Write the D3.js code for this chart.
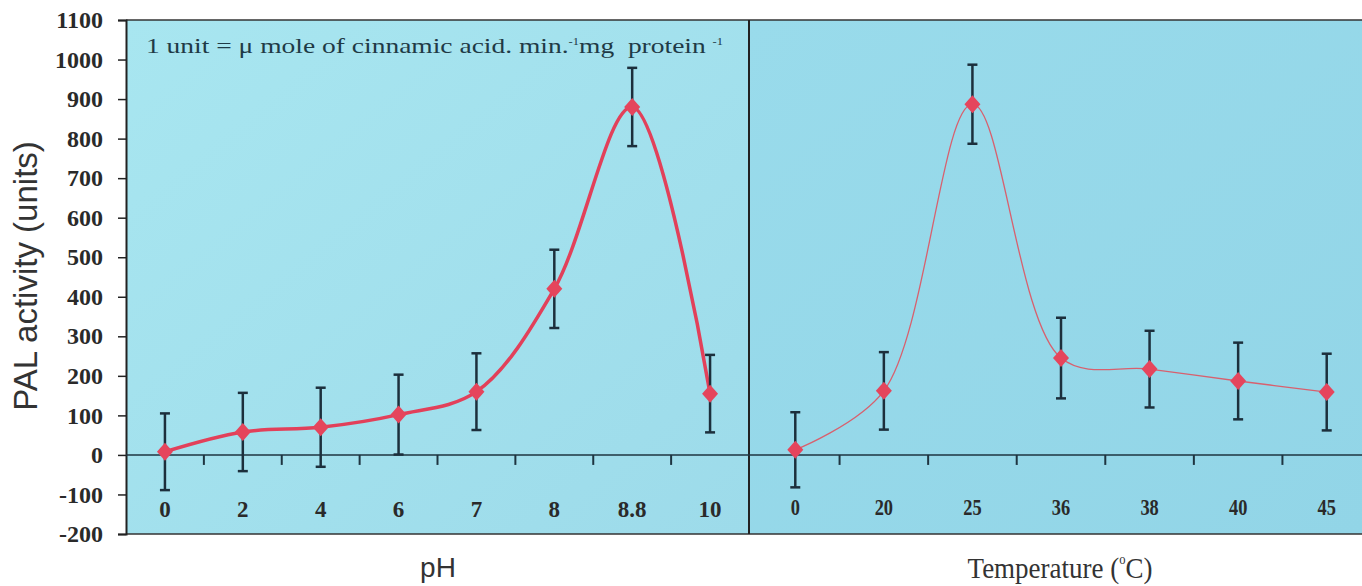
<!DOCTYPE html>
<html>
<head>
<meta charset="utf-8">
<script src="https://cdn.jsdelivr.net/npm/d3@7"></script>
<style>
  html, body { margin: 0; padding: 0; background: #fff; }
  svg { display: block; }
  .ytick text { font-family: "Liberation Serif", "DejaVu Serif", serif; font-weight: bold; font-size: 24px; fill: #2a2a2a; }
  .xlab { font-family: "Liberation Serif", "DejaVu Serif", serif; font-weight: bold; font-size: 23px; fill: #2a2a2a; }
</style>
</head>
<body>
<svg id="chart"></svg>
<script>
// PAL activity vs pH and temperature

const phLabels = ["0", "2", "4", "6", "7", "8", "8.8", "10"];
const phValues = [8, 58, 70, 102, 160, 420, 880, 155];
const phErrors = [97, 99, 100, 101, 97, 99, 99, 98];

const tempLabels = ["0", "20", "25", "36", "38", "40", "45"];
const tempValues = [13, 162, 887, 245, 217, 187, 159];
const tempErrors = [95, 98, 100, 102, 97, 97, 97];

const yTicks = [-200, -100, 0, 100, 200, 300, 400, 500, 600, 700, 800, 900, 1000, 1100];

const W = 1362, H = 586;
const plotLeft = 126, plotTop = 20, plotBottom = 534, divider = 749;

const svg = d3.select("#chart").attr("width", W).attr("height", H);

const y = d3.scaleLinear().domain([-200, 1100]).range([plotBottom, plotTop]);
const xL = d3.scaleBand().domain(phLabels).range([plotLeft, divider]);
const xR = d3.scaleBand().domain(tempLabels).range([751, 1371]);

// panel backgrounds
const defs = svg.append("defs");
const gradL = defs.append("linearGradient").attr("id", "bgL")
  .attr("x1", 0).attr("y1", 0).attr("x2", 1).attr("y2", 1);
gradL.append("stop").attr("offset", 0).attr("stop-color", "#a8e6f0");
gradL.append("stop").attr("offset", 1).attr("stop-color", "#9ddbea");
const gradR = defs.append("linearGradient").attr("id", "bgR")
  .attr("x1", 0).attr("y1", 0).attr("x2", 1).attr("y2", 1);
gradR.append("stop").attr("offset", 0).attr("stop-color", "#99dbeb");
gradR.append("stop").attr("offset", 1).attr("stop-color", "#92d5e7");

svg.append("rect").attr("x", plotLeft).attr("y", plotTop).attr("width", divider - plotLeft).attr("height", plotBottom - plotTop).attr("fill", "url(#bgL)");
svg.append("rect").attr("x", divider).attr("y", plotTop).attr("width", W - divider).attr("height", plotBottom - plotTop).attr("fill", "url(#bgR)");

// frame
svg.append("line").attr("x1", plotLeft).attr("x2", W).attr("y1", plotTop).attr("y2", plotTop).attr("stroke", "#333").attr("stroke-width", 1.5);
svg.append("line").attr("x1", plotLeft).attr("x2", W).attr("y1", plotBottom).attr("y2", plotBottom).attr("stroke", "#333").attr("stroke-width", 1.5);
svg.append("line").attr("x1", divider).attr("x2", divider).attr("y1", plotTop).attr("y2", plotBottom).attr("stroke", "#222").attr("stroke-width", 2);

// y axis
const yAxis = svg.append("g").attr("class", "ytick").attr("transform", `translate(${plotLeft},0)`)
  .call(d3.axisLeft(y).tickValues(yTicks).tickSize(8).tickPadding(15).tickFormat(d => String(d)));
yAxis.select(".domain").attr("stroke", "#222").attr("stroke-width", 2);
yAxis.selectAll(".tick line").attr("stroke", "#222").attr("stroke-width", 1.5);

// zero line with minor ticks at category boundaries
const y0 = y(0);
svg.append("line").attr("x1", plotLeft).attr("x2", W).attr("y1", y0).attr("y2", y0).attr("stroke", "#1e3440").attr("stroke-width", 1.5);
const minorTicks = phLabels.slice(1).map(d => xL(d)).concat(tempLabels.slice(1).map(d => xR(d)));
svg.append("g").selectAll("line").data(minorTicks).join("line")
  .attr("x1", d => d).attr("x2", d => d).attr("y1", y0).attr("y2", y0 + 10)
  .attr("stroke", "#1e3440").attr("stroke-width", 2);

// x labels
svg.append("g").selectAll("text").data(phLabels).join("text").attr("class", "xlab")
  .attr("x", d => xL(d) + xL.bandwidth() / 2).attr("y", 517).attr("text-anchor", "middle").text(d => d);
svg.append("g").selectAll("text").data(tempLabels).join("text").attr("class", "xlab")
  .attr("text-anchor", "middle")
  .attr("transform", d => `translate(${xR(d) + xR.bandwidth() / 2},515) scale(0.8,1)`).text(d => d);

// series
function drawSeries(xs, labels, values, errors, lineWidth, lineColor) {
  const cx = i => xs(labels[i]) + xs.bandwidth() / 2;
  const pts = values.map((v, i) => [cx(i), y(v)]);
  const g = svg.append("g");
  g.append("path").datum(pts)
    .attr("d", d3.line().curve(d3.curveCatmullRom.alpha(0.5)))
    .attr("fill", "none").attr("stroke", lineColor).attr("stroke-width", lineWidth);
  const eb = g.append("g").attr("stroke", "#1c2f3c").attr("stroke-width", 2.5);
  values.forEach((v, i) => {
    const x = cx(i), hi = y(v + errors[i]), lo = y(v - errors[i]);
    eb.append("line").attr("x1", x).attr("x2", x).attr("y1", hi).attr("y2", lo);
    eb.append("line").attr("x1", x - 5).attr("x2", x + 5).attr("y1", hi).attr("y2", hi);
    eb.append("line").attr("x1", x - 5).attr("x2", x + 5).attr("y1", lo).attr("y2", lo);
  });
  g.selectAll(".mk").data(pts).join("path").attr("class", "mk")
    .attr("d", "M0,-9L8,0L0,9L-8,0Z")
    .attr("transform", d => `translate(${d[0]},${d[1]})`)
    .attr("fill", "#e5455c");
}
drawSeries(xL, phLabels, phValues, phErrors, 3.5, "#e2405a");
drawSeries(xR, tempLabels, tempValues, tempErrors, 1.3, "#d8606e");

// annotation
const note = svg.append("text").attr("transform", "translate(146,53) scale(1.25,1)")
  .style("white-space", "pre")
  .attr("font-family", "Liberation Serif, DejaVu Serif, serif").attr("font-size", 22).attr("fill", "#1f3a46");
note.append("tspan").text("1 unit = \u03bc mole of cinnamic acid. min.");
note.append("tspan").attr("font-size", 10).attr("dy", -8).text("-1");
note.append("tspan").attr("dy", 8).text("mg  protein ");
note.append("tspan").attr("font-size", 10).attr("dy", -8).text("-1");

// axis titles
svg.append("text").attr("transform", "translate(37,276) rotate(-90)").attr("text-anchor", "middle")
  .attr("font-family", "Liberation Sans, Arial, sans-serif").attr("font-size", 33).attr("fill", "#333")
  .text("PAL activity (units)");
svg.append("text").attr("x", 438).attr("y", 577).attr("text-anchor", "middle")
  .attr("font-family", "Liberation Sans, Arial, sans-serif").attr("font-size", 28).attr("fill", "#333")
  .text("pH");
const tt = svg.append("text").attr("transform", "translate(1060,578) scale(0.9,1)").attr("text-anchor", "middle")
  .attr("font-family", "Liberation Serif, DejaVu Serif, serif").attr("font-size", 30).attr("fill", "#333");
tt.append("tspan").text("Temperature (");
tt.append("tspan").attr("font-size", 14).attr("dy", -14).text("o");
tt.append("tspan").attr("dy", 14).text("C)");
</script>
</body>
</html>
